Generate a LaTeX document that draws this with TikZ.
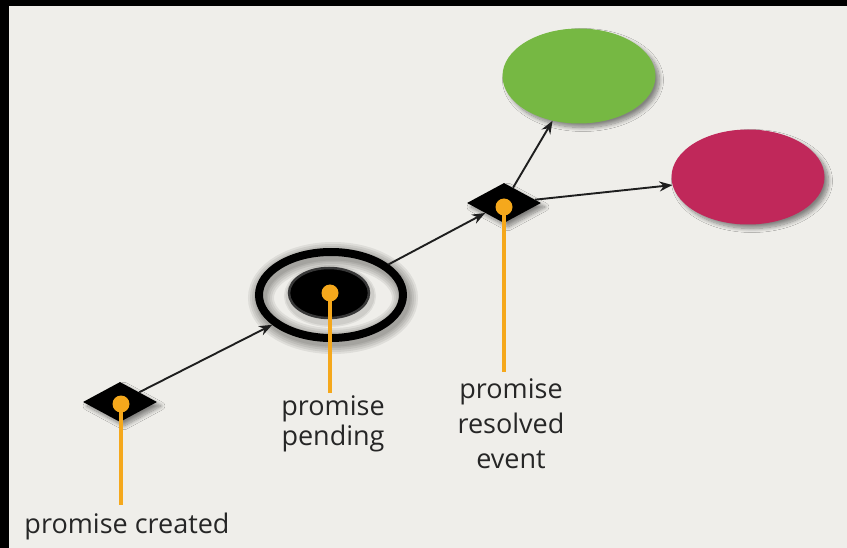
\documentclass[tikz,border=0pt]{standalone}
\usepackage{fontspec}
\setmainfont{Open Sans}
\usetikzlibrary{shapes.geometric,arrows.meta,shadows.blur}
\definecolor{bg}{HTML}{EFEEEA}
\definecolor{okgreen}{HTML}{76B843}
\definecolor{errred}{HTML}{C0285A}
\definecolor{pin}{HTML}{F5A81C}
\definecolor{ink}{HTML}{262626}
\definecolor{arr}{HTML}{1E1E1E}
\tikzset{
  shade/.style={blur shadow={shadow xshift=4pt, shadow yshift=-4pt, shadow blur steps=10, shadow blur radius=4pt, shadow opacity=45}},
  evdiamond/.style={diamond, fill=black, inner sep=0pt, minimum width=74pt, minimum height=40pt, shade},
  outcome/.style={ellipse, inner sep=0pt, minimum width=153pt, minimum height=95pt, shade},
  pindot/.style={circle, fill=pin, inner sep=0pt, minimum size=17pt},
  pinline/.style={draw=pin, line width=4.5pt},
  flow/.style={draw=arr, line width=1.9pt, -{Stealth[length=13pt,width=10pt]}},
  glow/.style={draw=black, opacity=0.07},
  lbl/.style={text=ink, align=center, anchor=base, inner sep=0pt}
}
\begin{document}
\begin{tikzpicture}[x=1pt,y=-1pt]
\fill[black] (0,0) rectangle (847,548);
\fill[bg] (9,6) rectangle (847,548);
\useasboundingbox (0,0) rectangle (847,548);

% soft glow round the pending ring
\foreach \w in {26,22,18,14,11}
  \draw[glow, line width=\w pt] (333,298) ellipse [x radius=72, y radius=43];
\foreach \w in {12,9}
  \draw[glow, line width=\w pt] (330,296) ellipse [x radius=40, y radius=25];

% nodes
\node[evdiamond] (created) at (120,402) {};
\node[ellipse, draw=black, line width=8pt, inner sep=0pt, minimum width=144pt, minimum height=86pt] (pending) at (331,295) {};
\node[ellipse, fill=black, draw=black!78, line width=2.5pt, inner sep=0pt, minimum width=80pt, minimum height=50pt] (core) at (329,293) {};
\node[evdiamond] (resolved) at (504,203) {};
\node[outcome, fill=okgreen] (fulfilled) at (579,76) {};
\node[outcome, fill=errred] (rejected) at (748,177) {};

% connectors
\draw[flow] (created) -- (pending);
\draw[flow] (pending) -- (resolved);
\draw[flow] (resolved) -- (fulfilled);
\draw[flow] (resolved) -- (rejected);

% pins
\node[pindot] (p1) at (121,404) {};
\node[pindot] (p2) at (330,293) {};
\node[pindot] (p3) at (504,207) {};
\coordinate (e1) at (121,505);
\coordinate (e2) at (330,393);
\coordinate (e3) at (504,372);
\draw[pinline] (p1.center) -- (e1);
\draw[pinline] (p2.center) -- (e2);
\draw[pinline] (p3.center) -- (e3);

% labels
\node[lbl, font=\fontsize{27}{30}\selectfont] (t1) at (127,533) {promise created};
\node[lbl, font=\fontsize{27}{30}\selectfont] (t2) at (333,445) {promise\\pending};
\node[lbl, font=\fontsize{27}{35}\selectfont] (t3) at (511,468) {promise\\resolved\\event};
\end{tikzpicture}
\end{document}
